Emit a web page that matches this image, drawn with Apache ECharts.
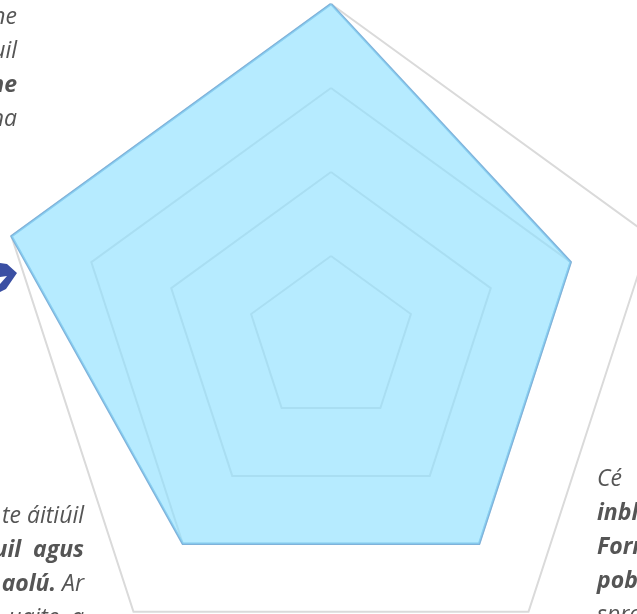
<!DOCTYPE html>
<html>
<head>
<meta charset="utf-8">
<style>html,body{margin:0;padding:0;background:#fff}#main{width:637px;height:614px}</style>
<script src="https://cdn.jsdelivr.net/npm/echarts@6/dist/echarts.min.js"></script>
</head>
<body>
<div id="main"></div>
<script>
// radar goes counter-clockwise from the top
var indicatorNames = ['A', 'B', 'C', 'D', 'E'];
var indicatorMax = [100, 100, 100, 100, 100];
var seriesValues = [100, 100, 75, 75, 75];

// lines of the cropped paragraphs around the chart
var textLeftTop = ['{n|ne}', '{n|uil}', '{b|ne}', '{n|na}'];
var textLeftBottom = ['{n|te áitiúil}', '{b|uil  agus}', '{b|aolú.}{n| Ar}', '{n|uaite, a}'];
var textRightBottom = ['{n|Cé}', '{b|inbl}', '{b|Forr}', '{b|pob}', '{n|spre}'];

var myChart = echarts.init(document.getElementById('main'));

var richStyle = {
    n: { fontFamily: 'Open Sans', fontStyle: 'italic', fontSize: 23, fontWeight: 400, fill: '#555555' },
    b: { fontFamily: 'Open Sans', fontStyle: 'italic', fontSize: 23, fontWeight: 700, fill: '#555555' }
};

function textLine(str, x, y, align) {
    return {
        type: 'text',
        x: x,
        y: y,
        silent: true,
        style: { text: str, align: align, verticalAlign: 'middle', rich: richStyle }
    };
}

var elements = [];
textLeftTop.forEach(function (item, i) {
    elements.push(textLine(item, 17, 17 + i * 34.3, 'right'));
});
textLeftBottom.forEach(function (item, i) {
    elements.push(textLine(item, 84, 516 + i * 34, 'right'));
});
textRightBottom.forEach(function (item, i) {
    elements.push(textLine(item, 597, 479 + i * 34, 'left'));
});
// piece of the blue icon cut by the left edge
elements.push({
    type: 'polygon',
    silent: true,
    shape: { points: [[0, 263], [7, 264], [17, 273], [6, 289], [0, 292], [0, 284], [7, 276], [0, 277]] },
    style: { fill: '#3a4fa3' }
});

var option = {
    animation: false,
    radar: {
        center: [331, 340],
        radius: 336,
        startAngle: 90,
        splitNumber: 4,
        shape: 'polygon',
        axisName: { show: false },
        axisLine: { show: false },
        axisTick: { show: false },
        splitArea: { show: false },
        splitLine: { lineStyle: { color: '#dadada', width: 2 } },
        indicator: indicatorNames.map(function (name, i) {
            return { name: name, max: indicatorMax[i] };
        })
    },
    graphic: { elements: elements },
    series: [
        {
            type: 'radar',
            symbol: 'none',
            lineStyle: { color: '#7fb2da', width: 2.5 },
            areaStyle: { color: '#8fe0ff', opacity: 0.65 },
            data: [{ value: seriesValues }]
        }
    ]
};
myChart.setOption(option);
</script>
</body>
</html>
